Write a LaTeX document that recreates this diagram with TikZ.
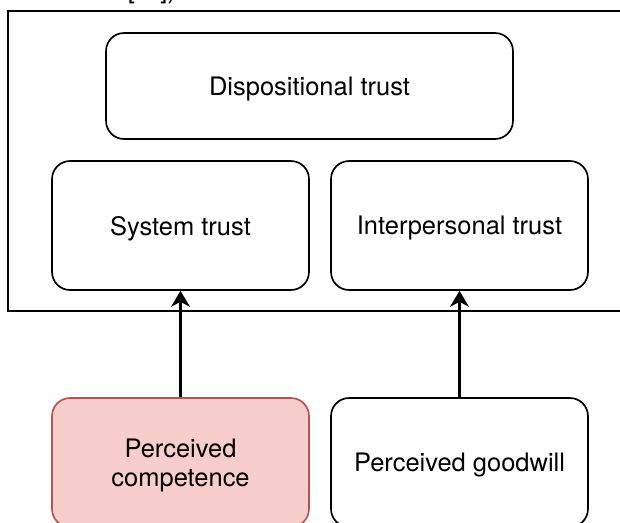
\documentclass[tikz,border=0pt]{standalone}
\usepackage{fontspec}
\setmainfont{TeX Gyre Heros}
\usepackage{xcolor}
\usepackage{tikz}
\usetikzlibrary{positioning, arrows.meta}
\definecolor{compfill}{HTML}{F8CECC}
\definecolor{compline}{HTML}{B85450}
\tikzset{>={Stealth[length=0.32cm, width=0.38cm, inset=0.1cm]}}
\tikzset{
  trustbox/.style={draw, line width=0.95pt, rounded corners=0.36cm,
    minimum width=5.14cm, minimum height=2.58cm, inner sep=0pt,
    align=center, text depth=0pt, font=\fontsize{14.5}{16.3}\selectfont},
  framebox/.style={draw, line width=1.15pt}
}

\begin{document}
\begin{tikzpicture}[x=0.02cm, y=-0.02cm]
    \useasboundingbox (0,0) rectangle (620,522);
    \node[anchor=base, font=\fontsize{14.5}{16.3}\selectfont] (cut) at (152,-2) {[\dots])};
    \draw[framebox] (8,11) rectangle (650,311);

    \node[trustbox, minimum width=8.14cm, minimum height=2.12cm] (disp) at (309.5,86) {Dispositional trust};
    \node[trustbox] (sys) at (180.5,225.5) {System trust};
    \node[trustbox] (inter) at (459.5,225.5) {Interpersonal trust};

    \node[trustbox, fill=compfill, draw=compline] (comp) at (180.5,462.5) {Perceived\\competence};
    \node[trustbox] (good) at (459.5,462.5) {Perceived goodwill};

    \path [->, line width=1.15pt]
    (comp) edge (sys)
    (good) edge (inter);
\end{tikzpicture}
\end{document}
